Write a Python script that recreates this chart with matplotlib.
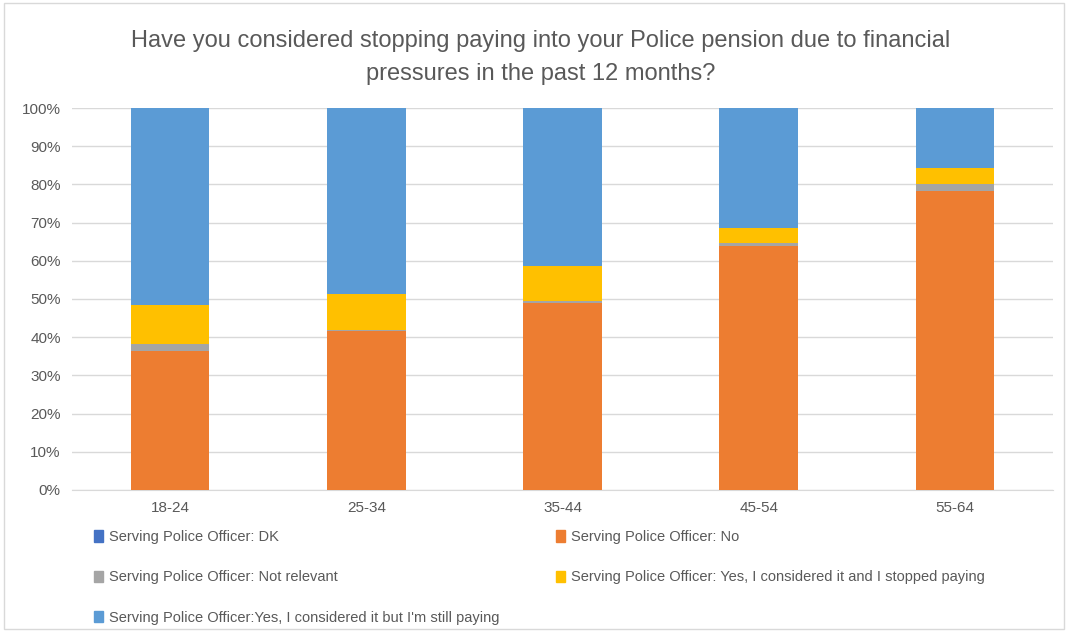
import numpy as np
import matplotlib.pyplot as plt
from matplotlib.patches import Rectangle

# age bands and share of answers (percent) per band
ages = ['18-24', '25-34', '35-44', '45-54', '55-64']
dk = [0.0, 0.0, 0.0, 0.0, 0.0]
no = [36.5, 41.6, 48.9, 64.0, 78.3]
not_relevant = [1.7, 0.3, 0.7, 0.7, 1.7]
stopped = [10.2, 9.5, 9.0, 3.9, 4.3]
still_paying = [51.6, 48.6, 41.4, 31.4, 15.7]

labels = ['Serving Police Officer: DK',
          'Serving Police Officer: No',
          'Serving Police Officer: Not relevant',
          'Serving Police Officer: Yes, I considered it and I stopped paying',
          "Serving Police Officer:Yes, I considered it but I'm still paying"]
colors = ['#4472C4', '#ED7D31', '#A5A5A5', '#FFC000', '#5B9BD5']

plt.rcParams['font.family'] = ['Liberation Sans', 'DejaVu Sans']
txt = '#595959'

fig = plt.figure(figsize=(10.68, 6.32), dpi=100)
ax = fig.add_axes([0.0674, 0.2247, 0.9186, 0.6044])

x = np.arange(len(ages))
bottom = np.zeros(len(ages))
for vals, c in zip([dk, no, not_relevant, stopped, still_paying], colors):
    ax.bar(x, vals, width=0.4, bottom=bottom, color=c, zorder=3)
    bottom += np.array(vals)

ax.set_xlim(-0.5, len(ages) - 0.5)
ax.set_ylim(0, 100)
ax.set_yticks(range(0, 101, 10))
ax.set_yticklabels([f'{v}%' for v in range(0, 101, 10)])
ax.set_xticks(x)
ax.set_xticklabels(ages)
ax.tick_params(length=0, labelsize=11, colors=txt, pad=8)
ax.yaxis.grid(True, color='#D9D9D9', lw=1, zorder=0)
for s in ['top', 'right', 'left']:
    ax.spines[s].set_visible(False)
ax.spines['bottom'].set_color('#D9D9D9')

fig.suptitle('Have you considered stopping paying into your Police pension due to financial\npressures in the past 12 months?',
             x=0.506, y=0.952, fontsize=17, color=txt, linespacing=1.6)

handles = [Rectangle((0, 0), 1, 1, color=c) for c in colors]
order = [0, 2, 4, 1, 3]
fig.legend([handles[i] for i in order], [labels[i] for i in order],
           loc='upper left', bbox_to_anchor=(0.076, 0.182), ncol=2, frameon=False,
           fontsize=10.5, labelcolor=txt, handlelength=0.6, handleheight=0.8,
           handletextpad=0.4, labelspacing=1.8, columnspacing=3.9)

# thin chart border
fig.patches.append(Rectangle((0.004, 0.004), 0.992, 0.992, transform=fig.transFigure,
                             fill=False, edgecolor='#D9D9D9', lw=1))

fig.savefig('out.png', dpi=100)
